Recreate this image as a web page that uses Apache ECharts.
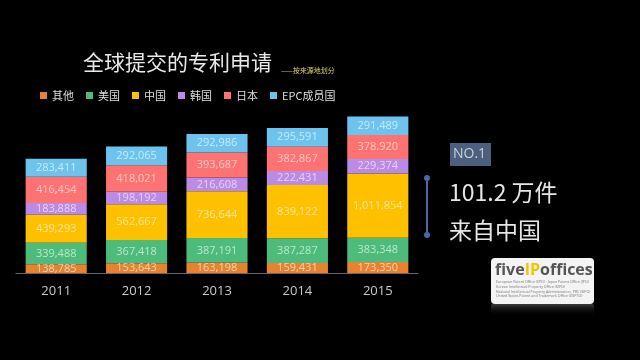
<!DOCTYPE html>
<html><head><meta charset="utf-8">
<script src="https://cdn.jsdelivr.net/npm/echarts@6/dist/echarts.min.js"></script>
<style>html,body{margin:0;padding:0;background:#000;}#c{width:640px;height:360px;}</style>
</head><body><div id="c"></div>
<script>
const years = ['2011','2012','2013','2014','2015'];
const seriesNames = ['其他','美国','中国','韩国','日本','EPC成员国'];
const other = [138785,153643,163198,159431,173350];
const usa = [339488,367418,387191,387287,383348];
const china = [439293,562667,736644,839122,1011854];
const korea = [183888,198192,216608,222431,229374];
const japan = [416454,418021,393687,382867,378920];
const epc = [283411,292065,292986,295591,291489];
const totals = [1801319,1992006,2190314,2286729,2470335];
const totalLabels = ['1,801,319','1,992, 006','2,190,314','2,286,729','2,470,335'];
const colors = ['#E8822E','#4DBB7C','#FFC000','#B98AE6','#FF7272','#6CC4EE'];
const valueArrays = [other,usa,china,korea,japan,epc];

const fmt = v => v.toLocaleString('en-US');
const font = '"Noto Sans CJK SC","Open Sans",sans-serif';

const chart = echarts.init(document.getElementById('c'));
const series = valueArrays.map((arr,i)=>({
  name: seriesNames[i], type:'bar', stack:'all', barWidth:'76%',
  itemStyle:{color:colors[i]},
  data: arr,
  label:{show:true, position:'inside', formatter:p=>fmt(p.value),
    color:'rgba(255,255,255,0.62)', fontSize:11, fontFamily:'"Open Sans",sans-serif'},
  emphasis:{disabled:true}
}));
series.push({
  name:'total', type:'line', data: totals, symbol:'none', lineStyle:{opacity:0},
  label:{show:true, position:'top', distance:4, formatter:p=>totalLabels[p.dataIndex],
    color:'#fff', fontWeight:'bold', fontSize:13, fontFamily:'"Open Sans",sans-serif'},
  z:10
});

chart.setOption({
  backgroundColor:'#000',
  animation:false,
  color: colors,
  grid:{left:16, right:222, top:89, bottom:87},
  legend:{data:seriesNames, left:35, top:85, icon:'rect', itemWidth:7, itemHeight:7, itemGap:12,
    textStyle:{color:'#ddd', fontSize:11, fontFamily:font}},
  xAxis:{type:'category', data:years,
    axisLine:{lineStyle:{color:'#666', width:1}}, axisTick:{show:false},
    axisLabel:{color:'#c8c8c8', fontSize:13, margin:12, fontFamily:'"Open Sans",sans-serif'}},
  yAxis:{type:'value', min:0, max:2900000, show:false, splitLine:{show:false}},
  series: series,
  graphic:[
    {type:'text', left:83, top:52, style:{text:'全球提交的专利申请', fill:'#e8e8e8', fontSize:21, fontFamily:font}},
    {type:'text', left:281, top:67, style:{text:'——按来源地划分', fill:'#d8d26a', fontSize:7, fontFamily:font}},
    {type:'rect', shape:{x:450,y:143,width:41,height:23}, style:{fill:'#4d5f7e'}},
    {type:'text', x:453, y:154.5, style:{text:'NO.1', fill:'#c8d0dc', fontSize:14, verticalAlign:'middle', fontFamily:'"Open Sans",sans-serif'}},
    {type:'line', shape:{x1:427,y1:178,x2:427,y2:235}, style:{stroke:'#4a68a8', lineWidth:2}},
    {type:'circle', shape:{cx:427,cy:178,r:3}, style:{fill:'#4a68a8'}},
    {type:'circle', shape:{cx:427,cy:235,r:3}, style:{fill:'#4a68a8'}},
    {type:'text', x:449, y:192, style:{text:'101.2 万件', fill:'#e6e6e6', fontSize:23, verticalAlign:'middle', fontFamily:font}},
    {type:'text', x:449, y:230, style:{text:'来自中国', fill:'#e6e6e6', fontSize:23, verticalAlign:'middle', fontFamily:font}},
    {type:'rect', shape:{x:491,y:304,width:103,height:12,r:2}, style:{fill:new echarts.graphic.LinearGradient(0,0,0,1,[{offset:0,color:'rgba(120,120,120,0.5)'},{offset:1,color:'rgba(0,0,0,0)'}])}},
    {type:'rect', shape:{x:491,y:258,width:103,height:46,r:4}, style:{fill:'#f4f4f4'}},
    {type:'text', x:495, y:270, style:{rich:{a:{fill:'#555',fontSize:16,fontWeight:'bold',fontFamily:'"Open Sans",sans-serif'},b:{fill:'#f5c400',fontSize:16,fontWeight:'bold',fontFamily:'"Open Sans",sans-serif'}}, text:'{a|five}{b|IP}{a|offices}', verticalAlign:'middle'}},
    {type:'text', x:496, y:280, style:{text:'European Patent Office (EPO) · Japan Patent Office (JPO)\nKorean Intellectual Property Office (KIPO)\nNational Intellectual Property Administration, PRC (SIPO)\nUnited States Patent and Trademark Office (USPTO)', fill:'#777', fontSize:3.6, lineHeight:4.6, fontFamily:'"Open Sans",sans-serif'}}
  ]
});
</script></body></html>
